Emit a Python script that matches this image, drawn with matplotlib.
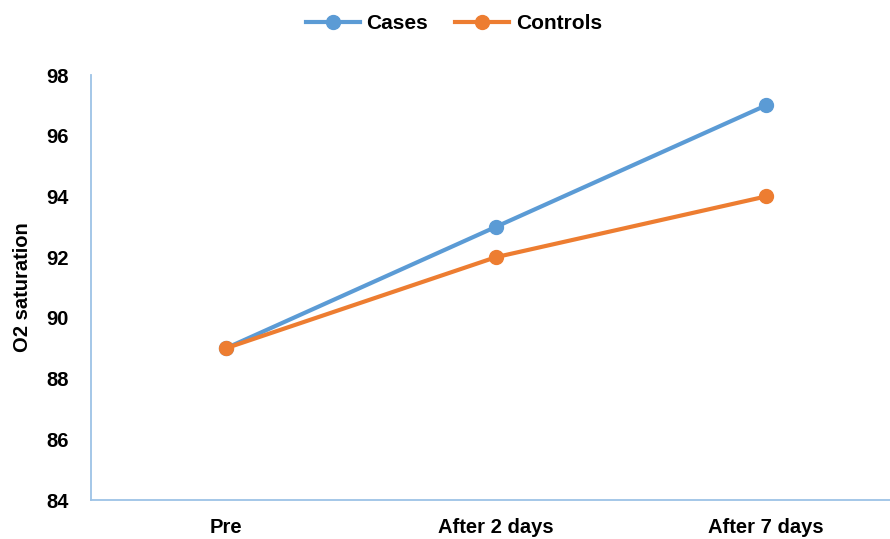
import matplotlib.pyplot as plt

categories = ["Pre", "After 2 days", "After 7 days"]
cases = [89, 93, 97]
controls = [89, 92, 94]

plt.rcParams['font.family'] = ['Liberation Sans', 'DejaVu Sans']
plt.rcParams['font.weight'] = 'bold'

fig = plt.figure(figsize=(8.9, 5.39), dpi=100)
ax = fig.add_axes([91 / 890, 39 / 539, 1 - 91 / 890, 425 / 539])

x = range(len(categories))
ax.plot(x, cases, color="#5B9BD5", lw=3, marker="o", ms=10, label="Cases")
ax.plot(x, controls, color="#ED7D31", lw=3, marker="o", ms=10, label="Controls")

ax.set_xlim(-0.5, 2.459)
ax.set_ylim(84, 98)
ax.set_yticks(range(84, 99, 2))
ax.set_xticks(list(x))
ax.set_xticklabels(categories)
ax.tick_params(axis="both", length=0, labelsize=14.5)
ax.tick_params(axis="x", pad=13)
ax.tick_params(axis="y", pad=16)
for s in ["top", "right"]:
    ax.spines[s].set_visible(False)
for s in ["left", "bottom"]:
    ax.spines[s].set_color("#9DC3E6")
    ax.spines[s].set_linewidth(1.3)

ax.set_ylabel("O2 saturation", fontsize=14.5, fontweight="bold", labelpad=10)

fig.legend(loc="upper center", bbox_to_anchor=(0.51, 1.008), ncol=2, frameon=False,
           fontsize=15, handlelength=2.6, columnspacing=1.3, handletextpad=0.3)

fig.savefig("out.png", dpi=100)
